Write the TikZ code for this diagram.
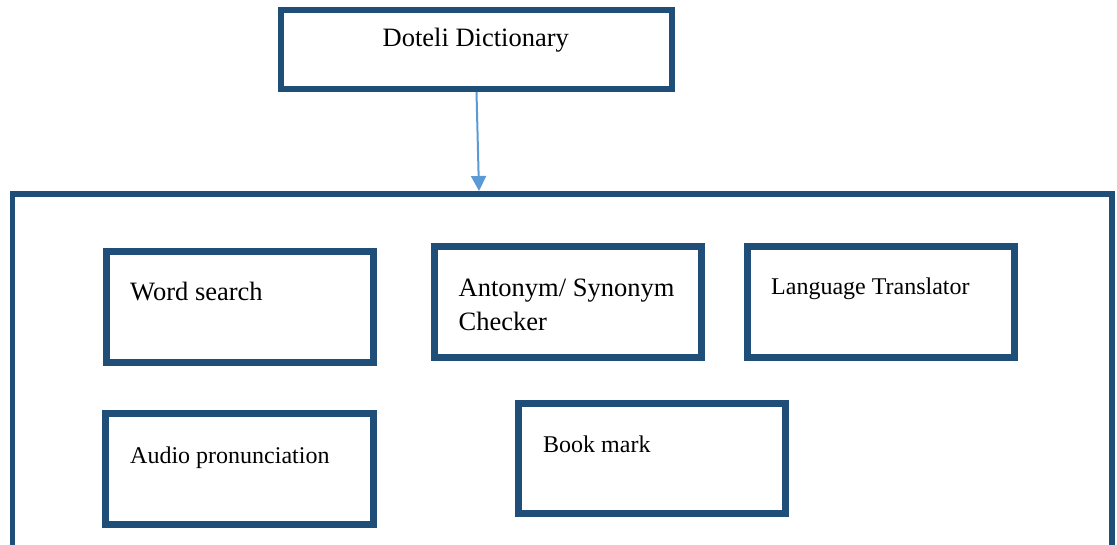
\documentclass[tikz,border=0pt]{standalone}
\definecolor{boxblue}{RGB}{31, 78, 121}
\definecolor{arrowblue}{RGB}{91, 155, 213}
\usepackage{fontspec}
\setmainfont{Liberation Serif}
\usepackage{tikz}
\usetikzlibrary{arrows.meta}

\begin{document}
\begin{tikzpicture}[x=1pt, y=-1pt,
    featurebox/.style={draw=boxblue, line width=7pt, fill=white, minimum width=267pt, minimum height=111pt},
    bigtext/.style={anchor=base west, inner sep=0pt, font=\fontsize{26.5}{35}\selectfont, align=left},
    smalltext/.style={anchor=base west, inner sep=0pt, font=\fontsize{24}{30}\selectfont},
    link/.style={-{Triangle[width=15pt, length=15pt]}, line width=2pt, arrowblue}]
                    % Page frame
                    \path[use as bounding box, clip] (0,0) rectangle (1117,545);

                    % Top box
                    \node[draw=boxblue, line width=6pt, minimum width=391pt, minimum height=79pt] (dict) at (476.5,49.5) {};
                    \node[bigtext] (dicttxt) at (382.5,47) {Doteli Dictionary};

                    % Container, runs past the bottom edge
                    \node[draw=boxblue, line width=5.5pt, minimum width=1099.5pt, minimum height=420pt] (container) at (562.25,404) {};

                    % Arrow down
                    \coordinate (tip) at (479,191);
                    \draw[link] (dict.south) -- (tip);

                    % First row
                    \node[featurebox] (wordsearch) at (239.5,307) {};
                    \node[bigtext] (wordsearchtxt) at (130,301) {Word search};
                    \node[featurebox] (antonym) at (568.25,302) {};
                    \node[bigtext] (antonymtxt) at (458.5,331) {Antonym/ Synonym\\Checker};
                    \node[featurebox] (translator) at (880.5,302) {};
                    \node[smalltext] (translatortxt) at (771,295) {Language Translator};

                    % Second row
                    \node[featurebox, minimum width=268pt] (audio) at (239.5,469) {};
                    \node[smalltext] (audiotxt) at (130,463) {Audio pronunciation};
                    \node[featurebox, minimum height=110pt] (bookmark) at (652,458.5) {};
                    \node[smalltext] (bookmarktxt) at (543,452) {Book mark};
                \end{tikzpicture}
\end{document}
